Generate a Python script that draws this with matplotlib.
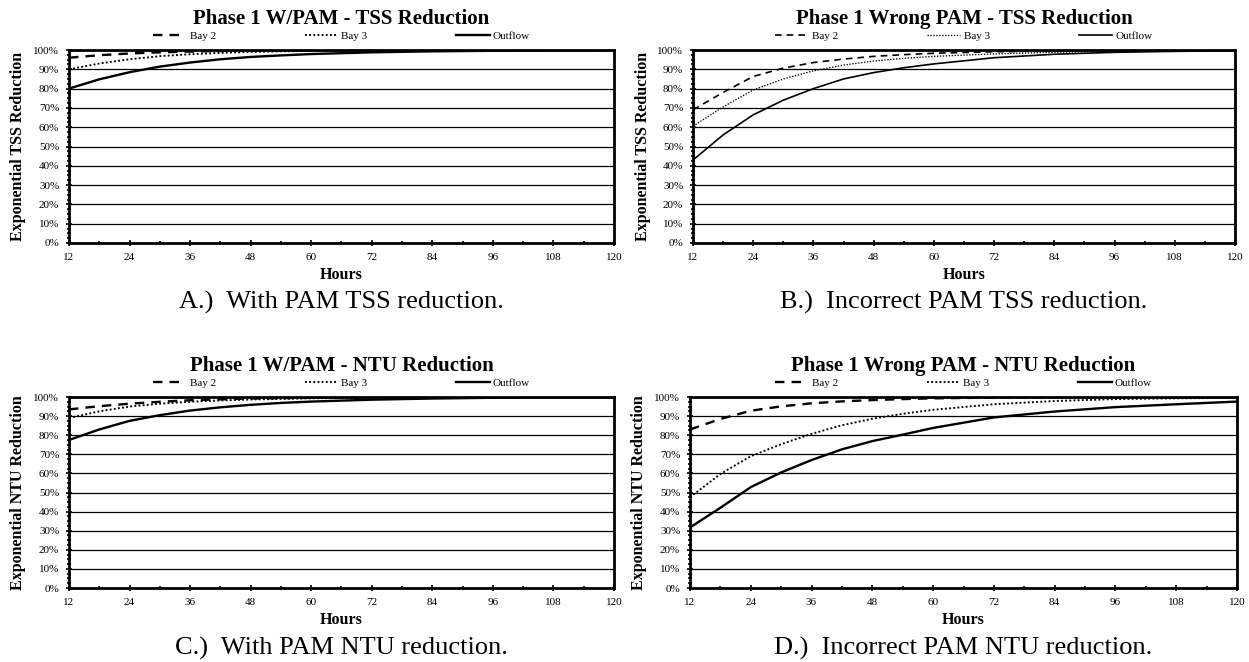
import numpy as np
from matplotlib import pyplot as plt
from matplotlib.ticker import MultipleLocator, FuncFormatter

plt.rcParams['font.family'] = ['Liberation Serif', 'DejaVu Serif']

# hours on the x axis (same for all four panels)
hours = [12, 18, 24, 30, 36, 42, 48, 54, 60, 72, 84, 96, 108, 120]

# A - with PAM, TSS
a_bay2 = [96, 97.3, 98.2, 98.8, 99.2, 99.5, 99.7, 99.8, 99.9, 100, 100, 100, 100, 100]
a_bay3 = [90, 93, 95.2, 96.8, 97.8, 98.5, 99.0, 99.3, 99.5, 99.8, 99.9, 100, 100, 100]
a_out = [80, 84.8, 88.5, 91.4, 93.5, 95.2, 96.4, 97.2, 97.9, 98.8, 99.3, 99.6, 99.8, 99.9]

# B - wrong PAM, TSS
b_bay2 = [69, 78, 86.3, 90.6, 93.5, 95.3, 96.7, 97.6, 98.3, 99.1, 99.5, 99.8, 99.9, 100]
b_bay3 = [60.5, 70.5, 79.3, 85, 89.2, 92.2, 94.3, 95.7, 96.7, 98, 98.8, 99.3, 99.6, 99.7]
b_out = [43, 56, 66.4, 74, 80, 85, 88.3, 90.8, 92.8, 96, 97.8, 98.8, 99.3, 99.6]

# C - with PAM, NTU
c_bay2 = [93.5, 95.2, 96.5, 97.5, 98.3, 98.8, 99.2, 99.4, 99.6, 99.8, 99.9, 100, 100, 100]
c_bay3 = [89, 92.5, 95, 96.5, 97.5, 98.2, 98.7, 99.0, 99.3, 99.7, 99.8, 99.9, 100, 100]
c_out = [77.5, 83, 87.5, 90.5, 92.9, 94.6, 95.9, 96.9, 97.6, 98.6, 99.2, 99.6, 99.8, 99.9]

# D - wrong PAM, NTU
d_bay2 = [83, 88.5, 92.8, 95.1, 96.7, 97.7, 98.4, 98.9, 99.3, 99.7, 99.9, 100, 100, 100]
d_bay3 = [47.5, 59.7, 69, 75.3, 80.7, 85.2, 88.6, 91.2, 93.3, 96.2, 97.9, 98.9, 99.3, 99.6]
d_out = [31.7, 42, 52.8, 60.5, 67, 72.6, 76.9, 80.3, 83.8, 89.3, 92.4, 94.7, 96.2, 97.6]

titles = ["Phase 1 W/PAM - TSS Reduction", "Phase 1 Wrong PAM - TSS Reduction",
          "Phase 1 W/PAM - NTU Reduction", "Phase 1 Wrong PAM - NTU Reduction"]
ylabels = ["Exponential TSS Reduction", "Exponential TSS Reduction",
           "Exponential NTU Reduction", "Exponential NTU Reduction"]
captions = ["A.)  With PAM TSS reduction.", "B.)  Incorrect PAM TSS reduction.",
            "C.)  With PAM NTU reduction.", "D.)  Incorrect PAM NTU reduction."]
series = [(a_bay2, a_bay3, a_out), (b_bay2, b_bay3, b_out),
          (c_bay2, c_bay3, c_out), (d_bay2, d_bay3, d_out)]

W, H = 1249, 662
# axes boxes in pixels: left, top, right, bottom
boxes = [(69, 50, 614, 243), (693, 50, 1235, 243),
         (69, 397, 614, 588), (690, 397, 1237, 588)]
caption_y = [302, 302, 648, 648]
line_w = [1.7, 1.2, 1.7, 1.7]  # panel B is drawn with thinner lines

fig = plt.figure(figsize=(W / 100, H / 100), dpi=100)

for i in range(4):
    l, t, r, b = boxes[i]
    ax = fig.add_axes([l / W, 1 - b / H, (r - l) / W, (b - t) / H])
    bay2, bay3, out = series[i]
    lw = line_w[i]
    ax.plot(hours, bay2, color='black', ls=(0, (4, 3)), lw=lw, label='Bay 2')
    ax.plot(hours, bay3, color='black', ls=(0, (1, 1.2)), lw=lw * 0.8, label='Bay 3')
    ax.plot(hours, out, color='black', ls='-', lw=lw, label='Outflow')

    ax.set_xlim(12, 120)
    ax.set_ylim(0, 100)
    ax.xaxis.set_major_locator(MultipleLocator(12))
    ax.xaxis.set_minor_locator(MultipleLocator(6))
    ax.yaxis.set_major_locator(MultipleLocator(10))
    ax.yaxis.set_minor_locator(MultipleLocator(2.5))
    ax.yaxis.set_major_formatter(FuncFormatter(lambda v, p: "%d%%" % v))
    ax.grid(axis='y', color='black', lw=0.9)
    ax.set_axisbelow(True)
    for s in ax.spines.values():
        s.set_linewidth(2)
    ax.tick_params(axis='both', which='major', labelsize=8, length=4, width=1.2,
                   direction='inout', pad=5)
    ax.tick_params(axis='both', which='minor', length=3, width=1.2, direction='inout')

    ax.set_ylabel(ylabels[i], fontsize=11.5, fontweight='bold')
    ax.yaxis.set_label_coords(-0.078, 0.5)
    ax.set_xlabel("Hours", fontsize=11.5, fontweight='bold')
    ax.xaxis.set_label_coords(0.5, -0.125)

    h = b - t
    ax.text(0.5, 1 + 31 / h, titles[i], transform=ax.transAxes, ha='center',
            va='center', fontsize=15, fontweight='bold')
    ax.legend(loc='center', bbox_to_anchor=(0.5, 1 + 14 / h), ncol=3, frameon=False,
              fontsize=8, handlelength=3, handletextpad=0.3, columnspacing=8,
              borderaxespad=0, borderpad=0)

    fig.text((l + r) / 2 / W, 1 - caption_y[i] / H, captions[i], ha='center',
             va='center', fontsize=19)

fig.savefig("out.png", dpi=100)
